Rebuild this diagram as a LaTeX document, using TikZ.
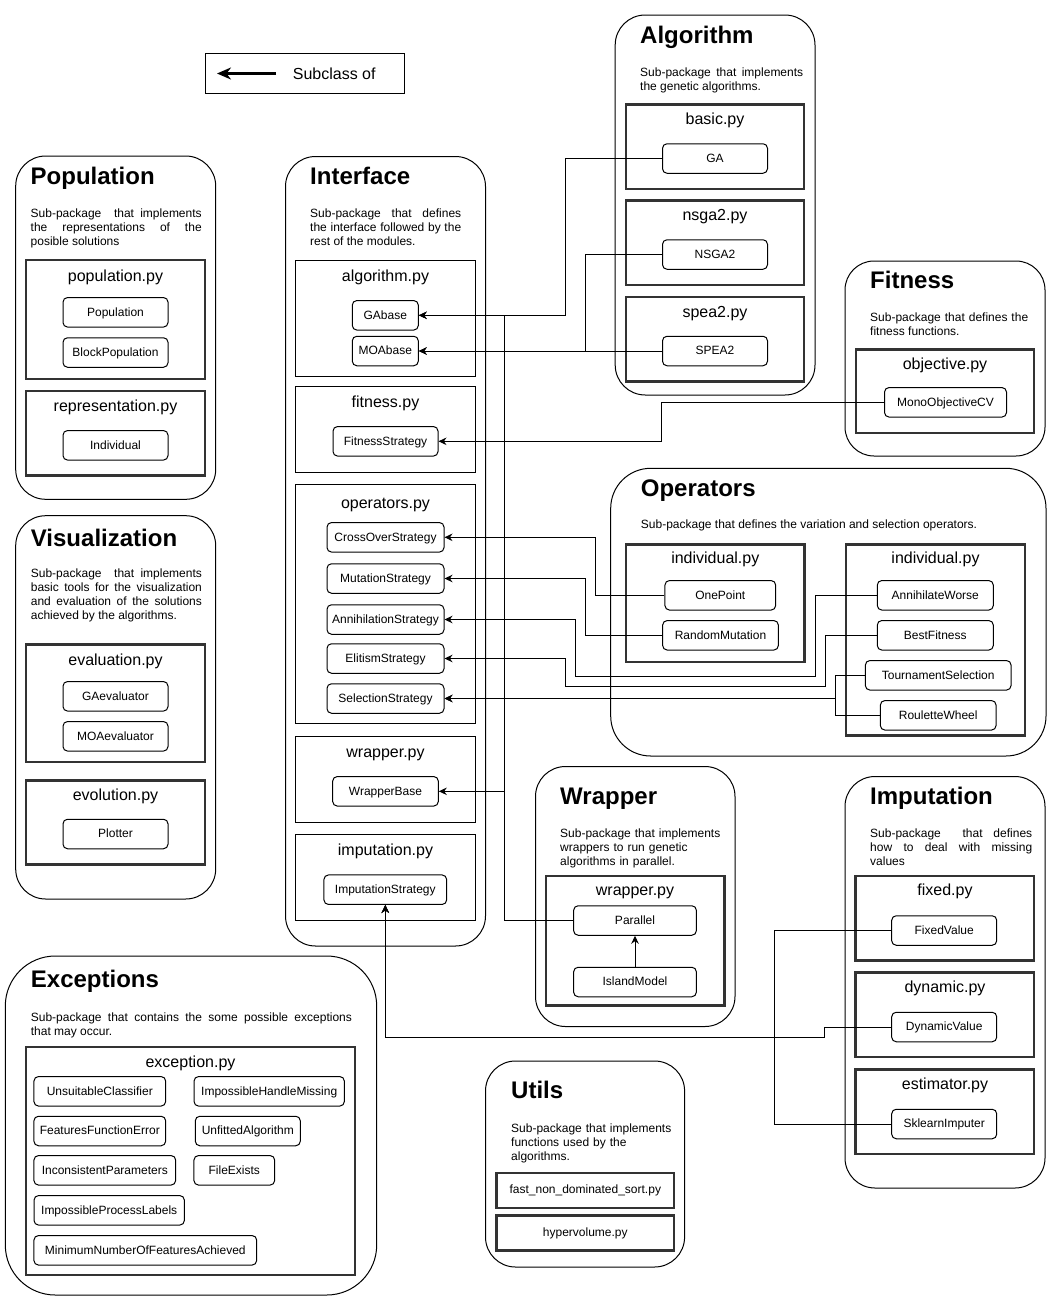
\documentclass[tikz,border=0pt]{standalone}
\usepackage{fontspec}
\setmainfont{Liberation Sans}
\usetikzlibrary{arrows.meta, fit}

\hyphenpenalty=10000
\exhyphenpenalty=10000
\tolerance=10000
\hbadness=10000

\tikzset{
    pkg/.style={draw, line width=1pt, inner sep=0pt, rounded corners=#1},
    pkg/.default=30pt,
    pkgtitle/.style={anchor=base west, inner sep=0pt, font=\fontsize{24}{28}\selectfont\bfseries},
    pkgdesc/.style={anchor=base west, inner sep=0pt, align=justify, font=\fontsize{12}{14}\selectfont},
    modbox/.style={draw=black!80, line width=2.5pt, inner sep=0pt},
    modthin/.style={draw, line width=1pt, inner sep=0pt},
    modname/.style={anchor=base, inner sep=0pt, font=\fontsize{16}{19}\selectfont},
    cls/.style={draw, line width=1pt, rounded corners=4.5pt, minimum height=29.5pt, inner sep=0pt,
        font=\fontsize{12}{14}\selectfont, text height=10pt, text depth=2.5pt},
    subof/.style={line width=1pt, -{Stealth[length=8pt, width=7.5pt]}},
}

\begin{document}
\begin{tikzpicture}[x=1pt, y=-1pt]
    \useasboundingbox (0,0) rectangle (1051,1301);

    % legend
    \node[draw, line width=1pt, minimum width=199pt, minimum height=40pt] (legend) at (304.7,73.3) {};
    \node[anchor=west, inner sep=0pt, font=\fontsize{16}{19}\selectfont] (legendText) at (292.7,73.3) {Subclass of};
    \coordinate (legendTail) at (276,73.5);
    \coordinate (legendHead) at (217,73.5);
    \draw[line width=2.6pt, -{Stealth[length=14pt, width=12pt]}] (legendTail) -- (legendHead);

    % Population
    \node[pkg, fit={(15.7,156) (215.7,499.3)}] (populationPkg) {};
    \node[pkgtitle] (populationTitle) at (30.5,184) {Population};
    \node[pkgdesc, text width=171pt] (populationDesc) at (30.5,217) {Sub-package\ \ that implements\linebreak the representations of the\linebreak posible solutions};
    \node[modbox, fit={(26,260) (205,379)}] (populationPy) {};
    \node[modname] (populationPyName) at (115.5,281) {population.py};
    \node[cls, minimum width=105pt] (Population) at (115.5,312.3) {Population};
    \node[cls, minimum width=105pt] (BlockPopulation) at (115.5,352.5) {BlockPopulation};
    \node[modbox, fit={(26,391) (205,475.5)}] (representationPy) {};
    \node[modname] (representationPyName) at (115.5,411.5) {representation.py};
    \node[cls, minimum width=105pt] (Individual) at (115.5,445.3) {Individual};

    % Visualization
    \node[pkg, fit={(15.7,515.7) (215.7,899)}] (visualizationPkg) {};
    \node[pkgtitle] (visualizationTitle) at (30.7,546.5) {Visualization};
    \node[pkgdesc, text width=171pt] (visualizationDesc) at (30.7,577.6) {Sub-package\ \ that implements\linebreak basic tools for the visualization\linebreak and evaluation of the solutions\linebreak achieved by the algorithms.};
    \node[modbox, fit={(26,644.5) (205,762)}] (evaluationPy) {};
    \node[modname] (evaluationPyName) at (115.5,665) {evaluation.py};
    \node[cls, minimum width=105pt] (GAevaluator) at (115.5,696.3) {GAevaluator};
    \node[cls, minimum width=105pt] (MOAevaluator) at (115.5,736.3) {MOAevaluator};
    \node[modbox, fit={(26,780.5) (205,864.5)}] (evolutionPy) {};
    \node[modname] (evolutionPyName) at (115.5,800.5) {evolution.py};
    \node[cls, minimum width=105pt] (Plotter) at (115.5,834) {Plotter};

    % Interface
    \node[pkg, fit={(285.5,156.5) (485.5,946)}] (interfacePkg) {};
    \node[pkgtitle] (interfaceTitle) at (310,184) {Interface};
    \node[pkgdesc, text width=151pt] (interfaceDesc) at (310,217) {Sub-package\ that defines\linebreak the interface followed by the\linebreak rest of the modules.};
    \node[modthin, fit={(295.5,260.7) (475.5,376.3)}] (algorithmPy) {};
    \node[modname] (algorithmPyName) at (385.5,281.5) {algorithm.py};
    \node[cls, minimum width=66pt] (GAbase) at (385.3,315.3) {GAbase};
    \node[cls, minimum width=66pt] (MOAbase) at (385.3,351) {MOAbase};
    \node[modthin, fit={(295.5,386.7) (475.5,472.3)}] (fitnessPy) {};
    \node[modname] (fitnessPyName) at (385.5,407.2) {fitness.py};
    \node[cls, minimum width=105pt] (FitnessStrategy) at (385.5,441.3) {FitnessStrategy};
    \node[modthin, fit={(295.5,484) (475.5,723.3)}] (operatorsPy) {};
    \node[modname] (operatorsPyName) at (385.5,508) {operators.py};
    \foreach \clsname/\y in {CrossOverStrategy/537.3, MutationStrategy/578.5, AnnihilationStrategy/619.5,
                             ElitismStrategy/658.5, SelectionStrategy/698.5}
        \node[cls, minimum width=117pt] (\clsname) at (385.5,\y) {\clsname};
    \node[modthin, fit={(295.5,736.7) (475.5,822.3)}] (wrapperPy) {};
    \node[modname] (wrapperPyName) at (385.5,757) {wrapper.py};
    \node[cls, minimum width=105.6pt] (WrapperBase) at (385.5,791.3) {WrapperBase};
    \node[modthin, fit={(295.5,834.3) (475.5,920)}] (imputationPy) {};
    \node[modname] (imputationPyName) at (385.5,855) {imputation.py};
    \node[cls, minimum width=122.7pt] (ImputationStrategy) at (385.3,889.7) {ImputationStrategy};

    % Algorithm
    \node[pkg, fit={(615.2,15) (815,395)}] (algorithmPkg) {};
    \node[pkgtitle] (algorithmTitle) at (640,43.5) {Algorithm};
    \node[pkgdesc, text width=163pt] (algorithmDesc) at (640,76.3) {Sub-package that implements\linebreak the genetic algorithms.};
    \foreach \fname/\clsname/\ty in {basic/GA/104.5, nsga2/NSGA2/200.5, spea2/SPEA2/297} {
        \node[modbox, fit={(626,\ty) (804,\ty+84.5)}] (\fname Py) {};
        \node[modname] (\fname PyName) at (715,\ty+20) {\fname.py};
        \node[cls, minimum width=105pt] (\clsname) at (715,\ty+54) {\clsname};
    }

    % Fitness
    \node[pkg=29pt, fit={(845,261) (1045,456)}] (fitnessPkg) {};
    \node[pkgtitle] (fitnessTitle) at (870,288.5) {Fitness};
    \node[pkgdesc, text width=158pt] (fitnessDesc) at (870,321) {Sub-package that defines the\linebreak fitness functions.};
    \node[modbox, fit={(856,349.5) (1034,433)}] (objectivePy) {};
    \node[modname] (objectivePyName) at (945,369) {objective.py};
    \node[cls, minimum width=122pt] (MonoObjectiveCV) at (945.5,402.3) {MonoObjectiveCV};

    % Operators
    \node[pkg=40pt, fit={(610.7,468.3) (1046,756)}] (operatorsPkg) {};
    \node[pkgtitle] (operatorsTitle) at (640.7,496) {Operators};
    \node[pkgdesc] (operatorsDesc) at (640.7,528.3) {Sub-package that defines the variation and selection operators.};
    \node[modbox, fit={(626,544.5) (804.5,662)}] (individualPyA) {};
    \node[modname] (individualPyAName) at (715.3,563.8) {individual.py};
    \node[cls, minimum width=110.7pt] (OnePoint) at (720.3,595.3) {OnePoint};
    \node[cls, minimum width=115.7pt] (RandomMutation) at (720.5,635.3) {RandomMutation};
    \node[modbox, fit={(846,544.5) (1025,735.5)}] (individualPyB) {};
    \node[modname] (individualPyBName) at (935.5,563.8) {individual.py};
    \node[cls, minimum width=116pt] (AnnihilateWorse) at (935.3,595.3) {AnnihilateWorse};
    \node[cls, minimum width=116pt] (BestFitness) at (935.3,635.3) {BestFitness};
    \node[cls, minimum width=145.7pt] (TournamentSelection) at (938.2,675.3) {TournamentSelection};
    \node[cls, minimum width=115.7pt] (RouletteWheel) at (938.2,715.3) {RouletteWheel};

    % Wrapper
    \node[pkg, fit={(535.5,766.5) (735,1026.5)}] (wrapperPkg) {};
    \node[pkgtitle] (wrapperTitle) at (560,804.5) {Wrapper};
    \node[pkgdesc, align=left, text width=170pt] (wrapperDesc) at (560,837.8) {Sub-package that implements\\ wrappers to run genetic\\ algorithms in parallel.};
    \node[modbox, fit={(546,876) (724.5,1005.5)}] (wrapperPyW) {};
    \node[modname] (wrapperPyWName) at (635,895) {wrapper.py};
    \node[cls, minimum width=122.7pt] (Parallel) at (635,920.5) {Parallel};
    \node[cls, minimum width=122.7pt] (IslandModel) at (635,982) {IslandModel};

    % Imputation
    \node[pkg, fit={(845,776.5) (1045,1188)}] (imputationPkg) {};
    \node[pkgtitle] (imputationTitle) at (870,804.5) {Imputation};
    \node[pkgdesc, text width=162pt] (imputationDesc) at (870,837.8) {Sub-package\ \ that defines\linebreak how to deal with missing\linebreak values};
    \foreach \fname/\clsname/\ty in {fixed/FixedValue/876, dynamic/DynamicValue/972.5, estimator/SklearnImputer/1069.5} {
        \node[modbox, fit={(855.5,\ty) (1034,\ty+84.5)}] (\fname Py) {};
        \node[modname] (\fname PyName) at (945,\ty+19.5) {\fname.py};
        \node[cls, minimum width=105pt] (\clsname) at (944.2,\ty+54.5) {\clsname};
    }

    % Utils
    \node[pkg, fit={(485.5,1061) (684.6,1267)}] (utilsPkg) {};
    \node[pkgtitle] (utilsTitle) at (511,1098) {Utils};
    \node[pkgdesc, align=left, text width=170pt] (utilsDesc) at (511,1132) {Sub-package that implements\\ functions used by the\\ algorithms.};
    \node[modbox, minimum width=177.5pt, minimum height=35pt, font=\fontsize{12}{14}\selectfont] (fastSortPy) at (585.3,1190.5) {fast\_non\_dominated\_sort.py};
    \node[modbox, minimum width=177.5pt, minimum height=35pt, font=\fontsize{12}{14}\selectfont] (hypervolumePy) at (585.3,1233.2) {hypervolume.py};

    % Exceptions
    \node[pkg=50pt, fit={(5.3,956) (376.7,1295)}] (exceptionsPkg) {};
    \node[pkgtitle] (exceptionsTitle) at (30.7,987.3) {Exceptions};
    \node[pkgdesc, text width=321pt] (exceptionsDesc) at (30.7,1021) {Sub-package that contains the some possible exceptions\linebreak that may occur.};
    \node[modbox, fit={(26,1047) (355,1275)}] (exceptionPy) {};
    \node[modname] (exceptionPyName) at (190.5,1067) {exception.py};
    \foreach \clsname/\x/\y/\bw in {UnsuitableClassifier/99.8/1091.3/131.7pt, ImpossibleHandleMissing/269.2/1091.3/150.3pt,
                                   FeaturesFunctionError/99.8/1131/131.7pt, UnfittedAlgorithm/247.8/1131/105pt,
                                   InconsistentParameters/104.8/1170.3/141.7pt, FileExists/234.3/1170.3/80.7pt,
                                   ImpossibleProcessLabels/109.2/1210.3/150.3pt,
                                   MinimumNumberOfFeaturesAchieved/145.3/1250.3/222.7pt}
        \node[cls, minimum width=\bw] (\clsname) at (\x,\y) {\clsname};

    % subclass links
    \draw[subof] (GA.west) -- ++(-97,0) |- (GAbase.east);
    \draw[subof] (NSGA2.west) -- ++(-77,0) |- (MOAbase.east);
    \draw[subof] (SPEA2.west) -- (MOAbase.east);
    \draw[subof] (MonoObjectiveCV.west) -- ++(-223,0) |- (FitnessStrategy.east);
    \draw[subof] (Parallel.west) -- ++(-68.3,0) |- (GAbase.east);
    \draw[subof] (Parallel.west) -- ++(-68.3,0) |- (WrapperBase.east);
    \draw[subof] (OnePoint.west) -- ++(-69.3,0) |- (CrossOverStrategy.east);
    \draw[subof] (RandomMutation.west) -- ++(-76.9,0) |- (MutationStrategy.east);
    \draw[subof] (AnnihilateWorse.west) -- ++(-61.6,0) |- (575.7,676.7) |- (AnnihilationStrategy.east);
    \draw[subof] (BestFitness.west) -- ++(-51.3,0) |- (565.7,686.7) |- (ElitismStrategy.east);
    \draw[subof] (TournamentSelection.west) -- ++(-29.6,0) |- (SelectionStrategy.east);
    \draw[subof] (RouletteWheel.west) -- ++(-44.6,0) |- (SelectionStrategy.east);
    \draw[subof] (IslandModel.north) -- (Parallel.south);
    \draw[subof] (FixedValue.west) -| (774.3,1037.5) -| (ImputationStrategy.south);
    \draw[subof] (DynamicValue.west) -| (824.5,1037.5) -| (ImputationStrategy.south);
    \draw[subof] (SklearnImputer.west) -| (774.3,1037.5) -| (ImputationStrategy.south);
\end{tikzpicture}
\end{document}
